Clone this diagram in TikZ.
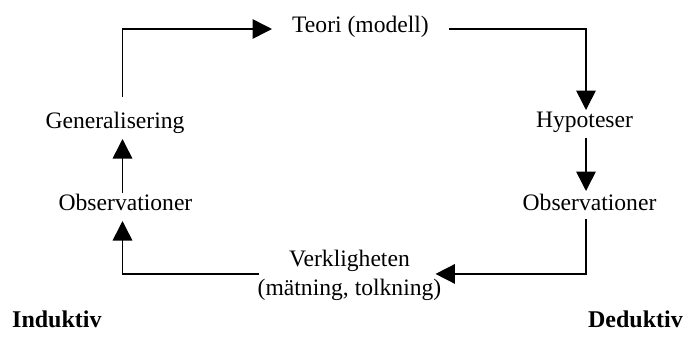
\documentclass[tikz,border=0pt]{standalone}
\usepackage{fontspec}
\setmainfont{Liberation Serif}
\usetikzlibrary{arrows.meta,calc}

\tikzset{
  lbl/.style={inner sep=0pt, font=\fontsize{23.6}{29}\selectfont},
  side/.style={inner sep=0pt, font=\fontsize{24}{29}\selectfont\bfseries},
  arr/.style={line width=1.6pt, -{Triangle[length=19.5pt,width=19.5pt]}}
}

\begin{document}
\begin{tikzpicture}[x=1pt,y=-1pt]
  \useasboundingbox (0,0) rectangle (687,338);

  % cycle stages
  \node[lbl, anchor=base] (teori) at (360.5,32) {Teori (modell)};
  \node[lbl, anchor=base] (hyp)   at (584.5,127) {Hypoteser};
  \node[lbl, anchor=base] (obsR)  at (589.5,210) {Observationer};
  \node[lbl, anchor=north, align=center] (verk) at (349.5,250)
        {Verkligheten\\(mätning, tolkning)};
  \node[lbl, anchor=base] (obsL)  at (125.5,210) {Observationer};
  \node[lbl, anchor=base] (gen)   at (115,128) {Generalisering};

  % reasoning directions
  \node[side, anchor=base west] (ind) at (12,327) {Induktiv};
  \node[side, anchor=base east] (ded) at (683,327) {Deduktiv};

  % deductive half (right)
  \draw[arr] ($(teori.base)+(88.5,-3)$) -| ($(hyp.base)+(1.5,-17)$);
  \draw[arr] ($(hyp.base)+(1.5,11)$) -- ($(obsR.base)+(-3.5,-19)$);
  \draw[arr] ($(obsR.base)+(-3.5,9)$) |- ($(verk.east)+(-6,-1.5)$);

  % inductive half (left)
  \draw[arr] ($(verk.west)+(1,-1.5)$) -| ($(obsL.base)+(-3,11)$);
  \draw[arr] ($(obsL.base)+(-3,-17)$) -- ($(gen.base)+(7.5,11)$);
  \draw[arr] ($(gen.base)+(7.5,-31)$) |- ($(teori.base)+(-88.5,-3)$);
\end{tikzpicture}
\end{document}
